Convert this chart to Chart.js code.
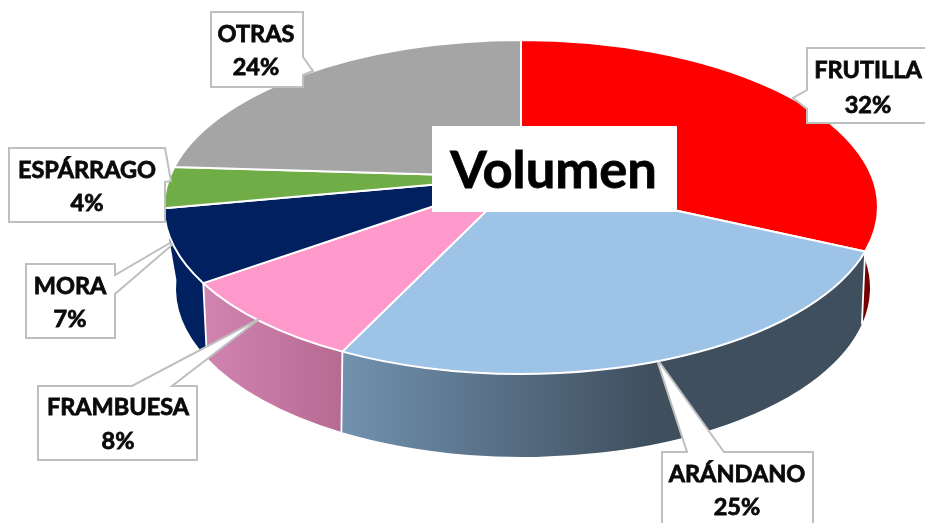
<!DOCTYPE html>
<html><head><meta charset="utf-8">
<style>html,body{margin:0;padding:0;background:#fff;overflow:hidden}canvas{display:block;filter:blur(.45px)}</style>
<script src="https://cdn.jsdelivr.net/npm/chart.js@4/dist/chart.umd.min.js"></script>
</head><body><canvas id="c" width="925" height="523"></canvas>
<script>
const categories = ['FRUTILLA','ARÁNDANO','FRAMBUESA','MORA','ESPÁRRAGO','OTRAS'];
const shares = [32,25,8,7,4,24];
const topColors = ['#FF0000','#9DC3E6','#FF99CC','#002060','#70AD47','#A5A5A5'];
const chartTitle = 'Volumen';

// projection of the pie's disc
const TOP = {cx:521, cy:207, rx:357, ry:167};
const BOT = {cx:523, cy:288, rx:347, ry:169};
const TILT = -0.18;
const boost = (p,b)=>{const d=1+b*p.y;return {x:p.x*Math.sqrt(1-b*b)/d,y:(p.y+b)/d};};
const topPoint = a => boost({x:Math.cos(a),y:Math.sin(a)},TILT);
const botPoint = p => {const y=p.y-0.055*(1-p.y*p.y);return {x:Math.sign(p.x)*Math.sqrt(1-y*y),y};};
const param = p => Math.atan2(p.y,p.x);

// perspective top face for each slice, using the angles the library computed
const ArcProto = Chart.registry.getElement('arc').prototype;
ArcProto.draw = function(ctx){
  const o=this.options, p1=topPoint(this.startAngle), p2=topPoint(this.endAngle);
  const apexY = TOP.cy + TOP.ry*TILT;
  ctx.save();
  ctx.beginPath();
  ctx.moveTo(TOP.cx,apexY);
  ctx.ellipse(TOP.cx,TOP.cy,TOP.rx,TOP.ry,0,param(p1),param(p2));
  ctx.closePath();
  ctx.fillStyle=o.backgroundColor; ctx.fill();
  ctx.lineJoin='round'; ctx.strokeStyle=o.borderColor; ctx.lineWidth=o.borderWidth; ctx.stroke();
  ctx.restore();
};

function sideFill(ctx,i){
  if(i===1){const g=ctx.createLinearGradient(345,0,650,0);g.addColorStop(0,'#7191AF');g.addColorStop(1,'#3F4F5E');return g;}
  if(i===2){const g=ctx.createLinearGradient(204,0,345,0);g.addColorStop(0,'#D184B0');g.addColorStop(1,'#B66A92');return g;}
  if(i===0) return '#750000';
  return '#002060';
}
const sides = {id:'sides',beforeDatasetsDraw(chart){
  const ctx=chart.ctx;
  const edge=(p)=>{
    const b=botPoint(p);
    ctx.beginPath();
    ctx.moveTo(TOP.cx+TOP.rx*p.x,TOP.cy+TOP.ry*p.y);
    ctx.lineTo(BOT.cx+BOT.rx*b.x,BOT.cy+BOT.ry*b.y);
    ctx.strokeStyle='#fff'; ctx.lineWidth=1.8; ctx.stroke();
  };
  const arcs=chart.getDatasetMeta(0).data;
  arcs.forEach((arc,i)=>{
    const p1=topPoint(arc.startAngle), p2=topPoint(arc.endAngle);
    if(Math.max(p1.y,p2.y)<0.05 && p1.x<0) return;
    const b1=botPoint(p1), b2=botPoint(p2);
    ctx.save();
    ctx.beginPath();
    ctx.ellipse(TOP.cx,TOP.cy,TOP.rx,TOP.ry,0,param(p1),param(p2));
    ctx.ellipse(BOT.cx,BOT.cy,BOT.rx,BOT.ry,0,param(b2),param(b1),true);
    ctx.closePath();
    ctx.fillStyle=sideFill(ctx,i); ctx.fill();
    ctx.restore();
  });
  arcs.forEach(arc=>{
    const p=topPoint(arc.startAngle);
    if(p.y>0.05) edge(p);
  });
}};

const callouts = [
 {i:0,box:[[807,48],[932,48],[932,123],[807,123],[807,109],[793,98],[807,90]],tx:868,y1:78,y2:113},
 {i:1,box:[[662,452],[687,452],[658,363],[660,363],[724,452],[813,452],[813,532],[662,532]],tx:737,y1:482,y2:515},
 {i:2,box:[[38,386],[132,386],[257,320],[258,320],[172,386],[197,386],[197,460],[38,460]],tx:118,y1:415,y2:449},
 {i:3,box:[[26,264],[115,264],[115,275],[170,243],[172,245],[115,294],[115,338],[26,338]],tx:70,y1:294,y2:327},
 {i:4,box:[[9,148],[165,148],[171,181],[165,182],[165,222],[9,222]],tx:87,y1:178,y2:211},
 {i:5,box:[[211,12],[303,12],[303,57],[313,71],[303,75],[303,87],[211,87]],tx:256,y1:42,y2:75}
];
const overlay = {id:'overlay',afterDatasetsDraw(chart){
  const ctx=chart.ctx;
  ctx.save();
  callouts.forEach(c=>{
    ctx.beginPath();
    c.box.forEach((p,k)=>k?ctx.lineTo(p[0],p[1]):ctx.moveTo(p[0],p[1]));
    ctx.closePath();
    ctx.fillStyle='#fff'; ctx.fill();
    ctx.strokeStyle='#BFBFBF'; ctx.lineWidth=2; ctx.lineJoin='miter'; ctx.stroke();
    ctx.fillStyle='#0a0a0a'; ctx.strokeStyle='#0a0a0a'; ctx.lineWidth=.8;
    ctx.textAlign='center'; ctx.textBaseline='alphabetic';
    ctx.font='bold 23.5px Lato';
    ctx.fillText(categories[c.i],c.tx,c.y1); ctx.strokeText(categories[c.i],c.tx,c.y1);
    const pct=shares[c.i]+'%';
    ctx.fillText(pct,c.tx,c.y2); ctx.strokeText(pct,c.tx,c.y2);
  });
  ctx.fillStyle='#fff'; ctx.fillRect(432,126,245,86);
  ctx.fillStyle='#000'; ctx.strokeStyle='#000'; ctx.lineWidth=.8; ctx.textAlign='center'; ctx.font='bold 52.5px Lato';
  ctx.fillText(chartTitle,553.5,188); ctx.strokeText(chartTitle,553.5,188);
  ctx.restore();
}};

new Chart(document.getElementById('c'),{
  type:'pie',
  data:{labels:categories,datasets:[{data:shares,backgroundColor:topColors,borderColor:'#fff',borderWidth:2}]},
  options:{responsive:false,animation:false,events:[],plugins:{legend:{display:false},tooltip:{enabled:false}}},
  plugins:[sides,overlay]
});
</script></body></html>
